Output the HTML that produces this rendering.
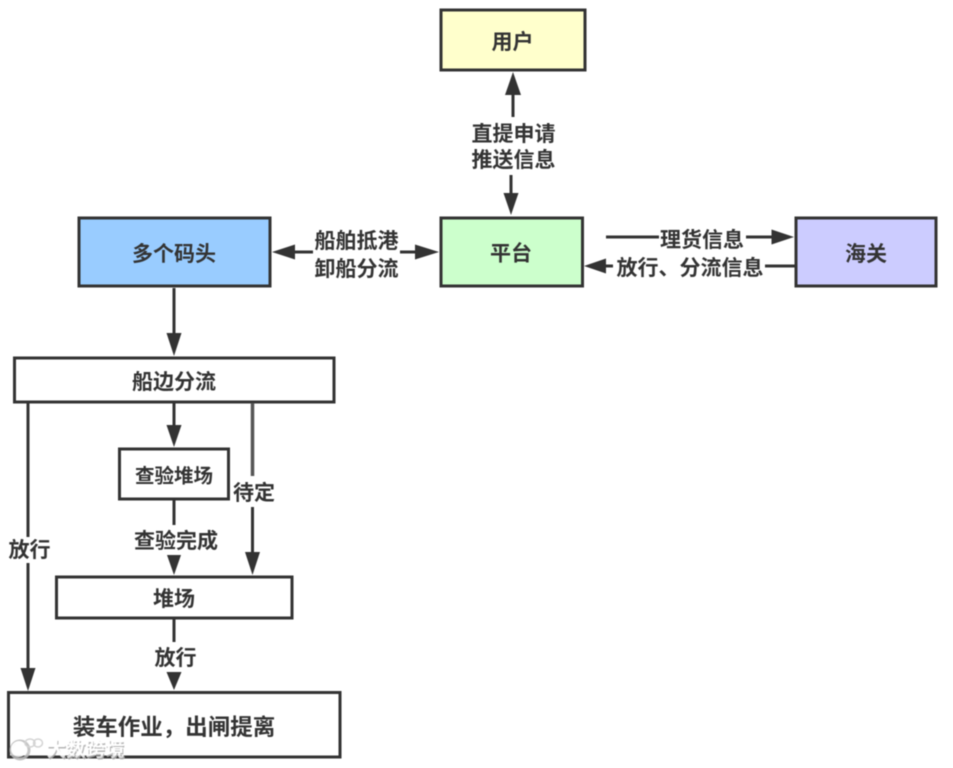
<!DOCTYPE html>
<html lang="zh">
<head>
<meta charset="utf-8">
<style>
html,body{margin:0;padding:0;background:#fff;width:953px;height:768px;overflow:hidden}
svg{display:block;filter:blur(.45px)}
text{font-family:"Liberation Sans","Noto Sans CJK SC",sans-serif;font-weight:700;fill:#333;text-anchor:middle;dominant-baseline:central}
.f21{font-size:21px}
.f19{font-size:19.5px}
.f22{font-size:22.5px}
rect{stroke:#333;stroke-width:3}
.l{stroke:#333;stroke-width:3;fill:none}
.h{fill:#333;stroke:none}
</style>
</head>
<body>
<svg width="953" height="768" viewBox="0 0 953 768" xmlns="http://www.w3.org/2000/svg">
<rect width="953" height="768" x="0" y="0" fill="#fff" style="stroke:none"/>

<!-- nodes -->
<rect x="441" y="10" width="144" height="60" fill="#ffffcc"/>
<rect x="441" y="218" width="141.500" height="68" fill="#ccffcc"/>
<rect x="79" y="218" width="191" height="68" fill="#99ccff"/>
<rect x="796" y="218" width="140" height="68" fill="#ccccff"/>
<rect x="14.500" y="358" width="319.500" height="44" fill="#fff"/>
<rect x="119.500" y="449" width="109" height="50" fill="#fff"/>
<rect x="56.500" y="577" width="235.500" height="41" fill="#fff"/>
<rect x="8.500" y="692.500" width="331.500" height="64.500" fill="#fff"/>

<text class="f21" x="512.500" y="42.500">用户</text>
<text class="f21" x="511" y="254">平台</text>
<text class="f21" x="174" y="254.500">多个码头</text>
<text class="f21" x="866" y="254.500">海关</text>
<text class="f21" x="174" y="382.500">船边分流</text>
<text class="f19" x="174" y="476.500">查验堆场</text>
<text class="f21" x="174" y="599.500">堆场</text>
<text class="f22" x="174" y="727.500">装车作业，出闸提离</text>

<!-- user / platform -->
<path class="l" d="M513 95V117"/>
<path class="h" d="M513 72L521 95H505Z"/>
<text class="f21" x="513.500" y="134.500">直提申请</text>
<text class="f21" x="513.500" y="160.500">推送信息</text>
<path class="l" d="M511 175V195"/>
<path class="h" d="M511 215L503.500 193H518.500Z"/>

<!-- platform / customs -->
<path class="l" d="M606 237H659M746 237H775"/>
<path class="h" d="M794 237L771.500 229.500V244.500Z"/>
<text class="f21" x="702" y="240.500">理货信息</text>
<path class="l" d="M795 266H765M613 266H602"/>
<path class="h" d="M584 266L606 258.500V273.500Z"/>
<text class="f21" x="690" y="268.500">放行、分流信息</text>

<!-- port / platform -->
<path class="l" d="M292 252H313M400 252H418"/>
<path class="h" d="M272 252L295 244.500V259.500Z"/>
<path class="h" d="M439 252L415 244.500V259.500Z"/>
<text class="f21" x="356.500" y="241.500">船舶抵港</text>
<text class="f21" x="356.500" y="269.500">卸船分流</text>

<!-- port down -->
<path class="l" d="M174 288V335"/>
<path class="h" d="M174 356L166.500 333H181.500Z"/>

<!-- split -->
<path class="l" d="M174 403V427"/>
<path class="h" d="M174 447L166.500 425H181.500Z"/>
<path class="l" d="M174 500V525"/>
<path class="h" d="M174 575L167 555H181Z"/>
<text class="f21" x="176" y="541.500">查验完成</text>

<path d="M252.500 403V476" fill="none" stroke="#555" stroke-width="3.500"/>
<path class="l" d="M252.500 507V555"/>
<path class="h" d="M252.500 575L245 552H260Z"/>
<text class="f21" x="254" y="493.500">待定</text>

<path class="l" d="M28 401V537M28 563V670"/>
<path class="h" d="M28 691L20.500 668H35.500Z"/>
<text class="f21" x="29.500" y="550.500">放行</text>

<path class="l" d="M174 619V642"/>
<path class="h" d="M174 690L166.500 672H181.500Z"/>
<text class="f21" x="175.500" y="658.500">放行</text>

<!-- watermark -->
<g opacity=".85">
  <circle cx="20" cy="750" r="9" fill="none" stroke="#bbb" stroke-width="3"/>
  <circle cx="19" cy="749" r="7" fill="none" stroke="#fff" stroke-width="2"/>
  <ellipse cx="30" cy="743" rx="5" ry="4" fill="none" stroke="#ccc" stroke-width="1.500"/>
  <ellipse cx="38" cy="743" rx="4.500" ry="4" fill="none" stroke="#ccc" stroke-width="1.500"/>
  <text x="86.500" y="751.500" style="font-size:19.500px;fill:#aaa">大数跨境</text>
  <text x="85.500" y="750" style="font-size:19.500px;fill:#fff">大数跨境</text>
</g>
</svg>
</body>
</html>
